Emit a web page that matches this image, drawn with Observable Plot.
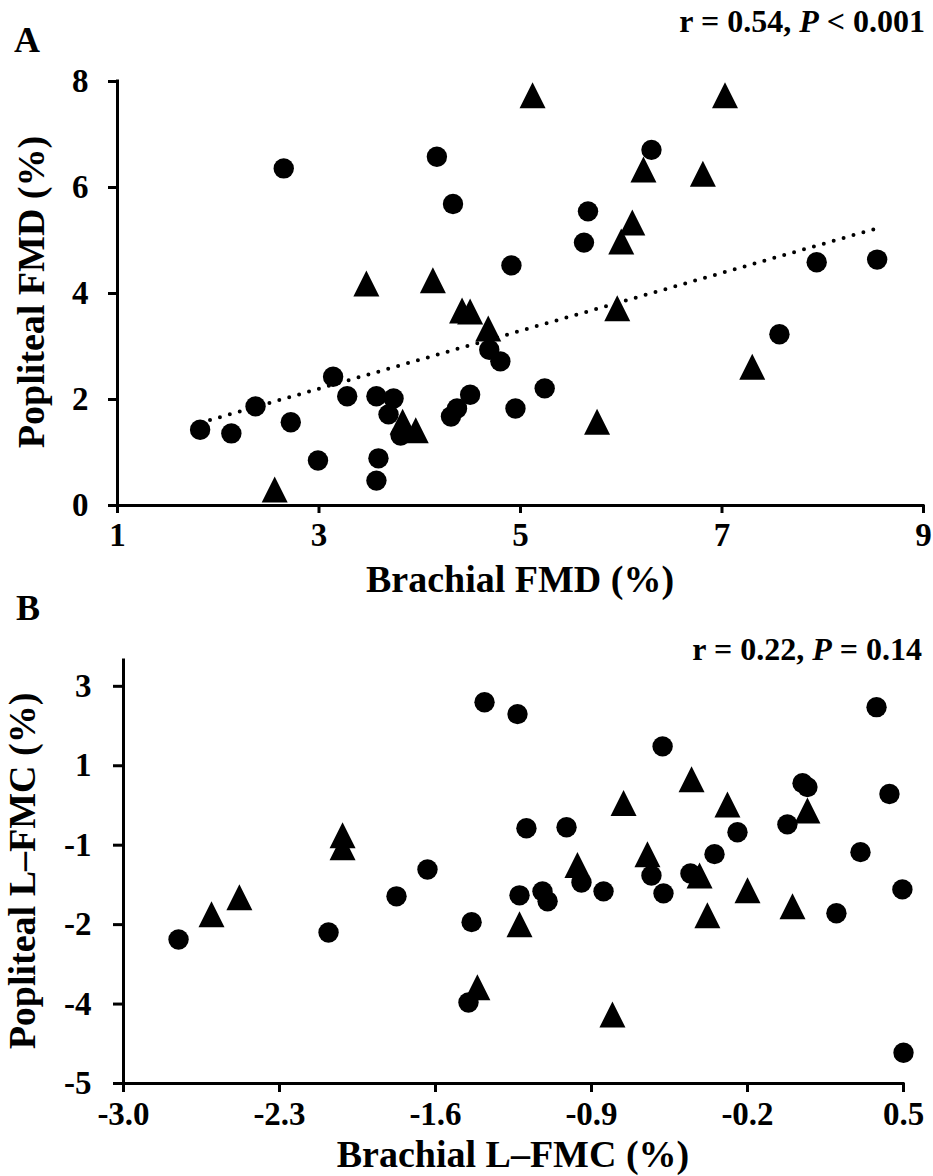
<!DOCTYPE html>
<html>
<head>
<meta charset="utf-8">
<script src="https://cdn.jsdelivr.net/npm/d3@7"></script>
<script src="https://cdn.jsdelivr.net/npm/@observablehq/plot@0.6"></script>
<style>
  html, body { margin: 0; padding: 0; background: #fff; }
  #chart { position: relative; width: 933px; height: 1176px; }
  #chart svg { position: absolute; left: 0; display: block; }
  #chart svg text { font-weight: 700; font-family: 'Liberation Serif', 'Times New Roman', Times, serif; fill: #000; }
</style>
</head>
<body>
<div id="chart"></div>
<script>
// ---------- Panel A: Brachial FMD vs Popliteal FMD ----------
const circleAX = [1.82, 2.13, 2.37, 2.72, 2.99, 3.14, 3.28, 3.57, 3.74, 3.69, 3.81, 3.59, 3.57, 4.31, 4.37,
                  4.50, 4.69, 4.80, 4.95, 5.24, 7.57, 4.91, 5.63, 5.67, 6.30, 7.94, 8.54, 2.65, 4.17, 4.33];
const circleAY = [1.43, 1.36, 1.87, 1.57, 0.85, 2.43, 2.06, 2.06, 2.02, 1.72, 1.32, 0.89, 0.47, 1.68, 1.83,
                  2.09, 2.94, 2.72, 1.83, 2.21, 3.23, 4.53, 4.96, 5.55, 6.71, 4.59, 4.64, 6.36, 6.58, 5.69];
const triAX = [5.12, 7.03, 6.22, 6.81, 6.11, 6.00, 3.47, 4.13, 4.42, 4.50, 4.68, 5.96, 7.30, 5.76, 3.83, 3.96, 2.56];
const triAY = [7.74, 7.74, 6.34, 6.26, 5.34, 4.98, 4.19, 4.25, 3.68, 3.66, 3.34, 3.72, 2.62, 1.58, 1.58, 1.42, 0.30];
const trendAX = [1.82, 8.54];
const trendAY = [1.56, 5.23];
const ticksAX = [1, 3, 5, 7, 9];
const labelsAX = ["1", "3", "5", "7", "9"];
const ticksAY = [0, 2, 4, 6, 8];
const labelsAY = ["0", "2", "4", "6", "8"];

// ---------- Panel B: Brachial L-FMC vs Popliteal L-FMC ----------
const circleBX = [-1.380, -1.232, 0.379, -0.581, 0.047, 0.069, 0.437, -1.192, -1.012, -0.245, -0.021, -0.348,
                  0.307, -0.456, -0.631, -0.945, -1.223, -1.120, -1.097, -0.846, -0.577, 0.495, 0.199, -1.438,
                  -1.452, 0.500, -1.636, -1.775, -2.753, -2.080];
const circleBY = [2.28, 2.04, 2.18, 1.39, 0.65, 0.57, 0.43, -0.26, -0.24, -0.34, -0.18, -0.78,
                  -0.74, -1.17, -1.21, -1.35, -1.61, -1.53, -1.73, -1.53, -1.57, -1.49, -1.97, -2.15,
                  -3.77, -4.78, -1.09, -1.63, -2.50, -2.36];
const triBX = [-0.451, -0.756, -0.290, 0.069, -0.649, -0.963, -0.415, -0.200, 0.002, -0.380, -1.223, -1.412,
               -0.806, -2.017, -2.017, -2.605, -2.480];
const triBY = [0.73, 0.25, 0.22, 0.10, -0.78, -1.00, -1.21, -1.51, -1.83, -2.01, -2.19, -3.46,
               -4.01, -0.40, -0.64, -1.99, -1.65];
const ticksBX = [-3.0, -2.3, -1.6, -0.9, -0.2, 0.5];
const labelsBX = ["-3.0", "-2.3", "-1.6", "-0.9", "-0.2", "0.5"];
const ticksBY = [-5.4, -3.8, -2.2, -0.6, 1.0, 2.6];
const labelsBY = ["-5", "-4", "-2", "-1", "1", "3"];

const FONT = "'Liberation Serif', 'Times New Roman', Times, serif";
const TICK_FONT = 33, TITLE_FONT = 38, STAT_FONT = 32, LETTER_FONT = 36;

// Excel-style isosceles triangle (width = height), centred on its bounding box
const triangleSymbol = {
  draw(ctx, size) {
    const r = Math.sqrt(size / Math.PI);
    ctx.moveTo(0, -r);
    ctx.lineTo(r, r);
    ctx.lineTo(-r, r);
    ctx.closePath();
  }
};

function zip(xs, ys) { return xs.map((x, i) => ({x, y: ys[i]})); }

function panel(o) {
  const marks = [];
  if (o.trend) {
    marks.push(Plot.line(zip(o.trend[0], o.trend[1]), {
      x: "x", y: "y", stroke: "black", strokeWidth: 4,
      strokeDasharray: "0 10.3", strokeLinecap: "round"
    }));
  }
  marks.push(
    Plot.dot(zip(o.cx, o.cy), {x: "x", y: "y", r: 10.2, fill: "black"}),
    Plot.dot(zip(o.tx, o.ty), {x: "x", y: "y", r: 13, fill: "black", symbol: triangleSymbol}),
    Plot.ruleX([o.xDomain[0]], {stroke: "black", strokeWidth: 3, strokeLinecap: "square"}),
    Plot.ruleY([o.yDomain[0]], {stroke: "black", strokeWidth: 3, strokeLinecap: "square"}),
    Plot.axisX({
      ticks: o.xTicks, tickFormat: d => o.xLabels[o.xTicks.indexOf(d)],
      tickSize: o.xTickSize, tickPadding: o.xTickPadding, strokeWidth: 3,
      fontSize: TICK_FONT, fontWeight: "bold", fontFamily: FONT, fill: "black", label: null
    }),
    Plot.axisY({
      ticks: o.yTicks, tickFormat: d => o.yLabels[o.yTicks.indexOf(d)],
      tickSize: o.yTickSize, tickPadding: o.yTickPadding, strokeWidth: 3,
      fontSize: TICK_FONT, fontWeight: "bold", fontFamily: FONT, fill: "black", label: null
    })
  );
  const svg = Plot.plot({
    width: 933,
    height: o.height,
    marginTop: o.mt, marginBottom: o.mb, marginLeft: o.ml, marginRight: o.mr,
    x: {type: "linear", domain: o.xDomain},
    y: {type: "linear", domain: o.yDomain},
    style: {fontFamily: FONT, fontWeight: "bold", overflow: "visible", background: "transparent", color: "black"},
    marks
  });
  const s = d3.select(svg);
  const txt = (x, y, size, anchor, str, rotate) => {
    const t = s.append("text")
      .attr("font-family", FONT).attr("font-weight", "bold")
      .attr("font-size", size).attr("text-anchor", anchor).attr("fill", "black");
    if (rotate) t.attr("transform", `translate(${x},${y}) rotate(-90)`);
    else t.attr("x", x).attr("y", y);
    t.text(str);
    return t;
  };
  txt(o.letter[0], o.letter[1], LETTER_FONT, "start", o.letter[2]);
  const st = s.append("text")
    .attr("x", o.stat[0]).attr("y", o.stat[1])
    .attr("font-family", FONT).attr("font-weight", "bold")
    .attr("font-size", STAT_FONT).attr("text-anchor", "end").attr("fill", "black");
  st.append("tspan").text(o.stat[2]);
  st.append("tspan").attr("font-style", "italic").text("P");
  st.append("tspan").text(o.stat[3]);
  txt(o.xTitle[0], o.xTitle[1], TITLE_FONT, "middle", o.xTitle[2]);
  txt(o.yTitle[0], o.yTitle[1], TITLE_FONT, "middle", o.yTitle[2], true);
  svg.style.top = o.top + "px";
  return svg;
}

const chart = document.getElementById("chart");

chart.appendChild(panel({
  top: 0, height: 600, mt: 81, mb: 95, ml: 117, mr: 10,
  xDomain: [1, 9], yDomain: [0, 8],
  cx: circleAX, cy: circleAY, tx: triAX, ty: triAY,
  trend: [trendAX, trendAY],
  xTicks: ticksAX, xLabels: labelsAX, yTicks: ticksAY, yLabels: labelsAY,
  xTickSize: 8, xTickPadding: 9, yTickSize: 9, yTickPadding: 20,
  letter: [14, 52, "A"],
  stat: [925, 32, "r = 0.54, ", " < 0.001"],
  xTitle: [520, 592, "Brachial FMD (%)"],
  yTitle: [44, 292, "Popliteal FMD (%)"]
}));

chart.appendChild(panel({
  top: 600, height: 576, mt: 60, mb: 93, ml: 123, mr: 30,
  xDomain: [-3.0, 0.5], yDomain: [-5.4, 3.12],
  cx: circleBX, cy: circleBY, tx: triBX, ty: triBY,
  trend: null,
  xTicks: ticksBX, xLabels: labelsBX, yTicks: ticksBY, yLabels: labelsBY,
  xTickSize: 9, xTickPadding: 9, yTickSize: 10, yTickPadding: 22,
  letter: [16, 20, "B"],
  stat: [922, 60, "r = 0.22, ", " = 0.14"],
  xTitle: [513, 567, "Brachial L\u2013FMC (%)"],
  yTitle: [35, 271, "Popliteal L\u2013FMC (%)"]
}));
</script>
</body>
</html>
